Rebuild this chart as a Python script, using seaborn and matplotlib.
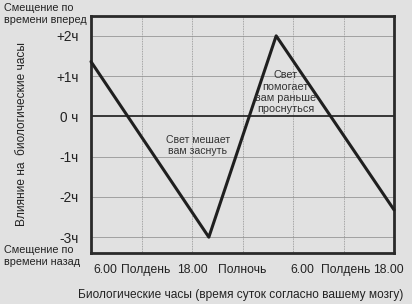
import matplotlib
matplotlib.use("Agg")
import matplotlib.pyplot as plt
import matplotlib.transforms as mtransforms
import seaborn as sns
import pandas as pd

# Data (hours since 0:00 of day 1; shift in hours)
hours = [6, 20, 28, 42]
shift = [1.36, -3.0, 2.0, -2.32]

xtick_pos = [6, 12, 18, 24, 30, 36, 42]
xtick_labels = ["6.00", "Полдень", "18.00", "Полночь", "6.00", "Полдень", "18.00"]
ytick_pos = [2, 1, 0, -1, -2, -3]
ytick_labels = ["+2ч", "+1ч", "0 ч", "-1ч", "-2ч", "-3ч"]

df = pd.DataFrame({"hours": hours, "shift": shift})

sns.set_theme(style="white")
plt.rcParams["font.family"] = ["Liberation Sans", "DejaVu Sans"]

BG = "#e1e1e1"
fig = plt.figure(figsize=(4.12, 3.04), dpi=100, facecolor=BG)
ax = fig.add_axes([91 / 412, 1 - 253.3 / 304, 303 / 412, (253.3 - 15.7) / 304])
ax.set_facecolor(BG)

ax.set_xlim(6, 42)
ax.set_ylim(-3.4, 2.5)

# grid
for x in xtick_pos[1:-1]:
    ax.axvline(x, color="#909090", lw=0.6, ls=(0, (1, 1)), zorder=1)
for y in ytick_pos:
    if y != 0:
        ax.axhline(y, color="#909090", lw=0.55, zorder=1)
ax.axhline(0, color="#2a2a2a", lw=1.3, zorder=2)

sns.lineplot(data=df, x="hours", y="shift", ax=ax, color="#1f1f1f", lw=2.2,
             zorder=3, clip_on=False)

for s in ax.spines.values():
    s.set_color("#2a2a2a")
    s.set_linewidth(2.0)

ax.set_xticks(xtick_pos)
ax.set_xticklabels(xtick_labels)
ax.set_yticks(ytick_pos)
ax.set_yticklabels(ytick_labels)
ax.tick_params(axis="x", length=0, pad=8, labelsize=8.7, colors="#222222")
ax.tick_params(axis="y", length=0, pad=9, labelsize=9.8, colors="#222222")

# nudge some x tick labels as in the reference
offsets = {0: 14, 1: 4, 4: 9, 5: 2, 6: -6}
for i, lab in enumerate(ax.get_xticklabels()):
    if i in offsets:
        off = mtransforms.ScaledTranslation(offsets[i] / 100, 0, fig.dpi_scale_trans)
        lab.set_transform(lab.get_transform() + off)

ax.set_xlabel("Биологические часы (время суток согласно вашему мозгу)",
              fontsize=8.6, color="#222222")
ax.xaxis.set_label_coords(0.495, -0.152)
ax.set_ylabel("Влияние на  биологические часы", fontsize=8.6, color="#222222")
ax.yaxis.set_label_coords(-0.208, 0.502)

ax.text(18.7, -0.73, "Свет мешает\nвам заснуть", ha="center", va="center",
        fontsize=7.6, color="#333333", linespacing=1.1, zorder=4)
ax.text(29.1, 0.6, "Свет\nпомогает\nвам раньше\nпроснуться", ha="center",
        va="center", fontsize=7.8, color="#333333", linespacing=1.15, zorder=4)

fig.text(4 / 412, 1 - 3 / 304, "Смещение по\nвремени вперед", ha="left", va="top",
         fontsize=7.8, color="#222222", linespacing=1.3)
fig.text(4 / 412, 1 - 245 / 304, "Смещение по\nвремени назад", ha="left", va="top",
         fontsize=7.8, color="#222222", linespacing=1.3)

fig.savefig("out.png", dpi=100, facecolor=BG)
